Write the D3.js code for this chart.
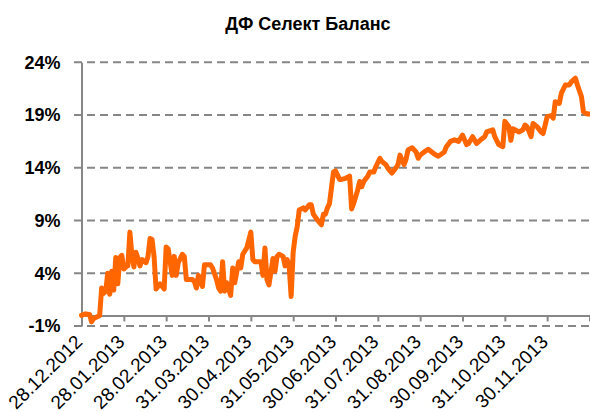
<!DOCTYPE html>
<html>
<head>
<meta charset="utf-8">
<script src="https://cdn.jsdelivr.net/npm/d3@7/dist/d3.min.js"></script>
<style>
  html, body { margin: 0; padding: 0; background: #ffffff; }
  svg { display: block; font-family: "Liberation Sans", Arial, sans-serif; }
</style>
</head>
<body>
<svg id="chart" width="590" height="412"></svg>
<script>
// ---- data ----
const title = "ДФ Селект Баланс";
const yTicks = [-1, 4, 9, 14, 19, 24];
const tickLabels = ["28.12.2012","28.01.2013","28.02.2013","31.03.2013","30.04.2013","31.05.2013",
                    "30.06.2013","31.07.2013","31.08.2013","30.09.2013","31.10.2013","30.11.2013"];
const daysPerLabel = 21;
const totalDays = 252;
// trading-day index and return (%)
const days = [0,2,4,5,6,8,9,10,11,12,13,14,15,16,17,18,19,20,21,22,23,24,25,26,27,28,29,30,32,33,34,35,36,37,39,41,
  42,43,45,46,47,48,50,51,52,53,55,56,57,58,59,60,61,64,65,67,68,69,70,71,72,74,75,76,78,79,80,82,84,85,86,89,90,91,92,93,
  95,96,97,98,100,101,102,103,104,105,106,107,108,110,111,113,114,115,117,119,120,121,122,123,124,125,126,128,129,131,133,134,
  135,137,138,139,140,142,143,145,146,148,149,151,152,154,156,157,158,160,161,162,164,166,167,168,170,172,175,177,180,181,183,
  185,187,189,191,192,194,196,198,200,201,204,205,207,209,210,212,213,214,215,217,219,220,221,223,224,226,228,229,231,233,234,
  235,237,238,240,242,243,245,246,248,249,251,252];
const values = [0.0,0.15,0.1,-0.6,-0.3,-0.1,0.0,2.6,2.1,2.3,4.0,2.0,4.2,2.4,5.5,3.0,5.5,5.7,4.4,4.6,4.7,7.9,5.7,4.6,6.0,5.4,4.7,5.3,5.0,5.6,7.3,7.2,5.6,2.5,3.0,2.5,
  6.5,6.3,3.8,5.6,3.8,5.0,5.8,5.6,3.4,3.4,3.4,3.2,2.6,3.8,3.2,2.75,4.8,4.8,4.5,3.4,2.6,2.3,5.1,2.3,3.1,1.9,4.5,3.1,5.1,4.5,5.8,6.4,7.9,5.3,5.1,5.1,3.8,6.4,3.4,2.9,
  5.4,4.2,5.6,5.8,5.6,4.7,5.3,4.7,1.8,6.0,7.5,8.4,10.0,10.2,10.0,10.5,10.5,9.6,9.05,8.6,9.6,9.6,10.2,10.6,12.1,13.6,13.7,12.9,12.9,13.0,13.2,10.1,
  10.6,11.9,12.7,12.2,12.7,13.2,13.6,13.6,14.1,14.9,14.6,14.3,13.95,13.5,14.0,14.3,15.2,14.3,14.8,15.7,15.9,15.5,14.9,15.2,15.5,15.75,15.3,15.1,15.5,16.0,16.5,
  16.65,16.5,17.1,16.2,16.3,16.95,16.3,16.65,16.95,17.4,17.6,16.95,16.2,16.0,18.4,17.9,16.6,17.7,17.6,17.4,17.6,18.05,17.9,16.95,18.2,17.9,17.4,17.25,18.85,18.95,18.7,
  20.25,20.1,21.05,21.85,21.85,22.15,22.5,21.85,20.75,19.3,19.1,19.1];

// ---- chart ----
const svg = d3.select("#chart");
const gridColor = "#868686";
const lineColor = "#FF6600";

const x = d3.scaleLinear().domain([0, totalDays]).range([81.5, 589.5]);
const y = d3.scaleLinear().domain([-1, 24]).range([326, 62.3]);

// title
svg.append("text")
  .attr("x", 308).attr("y", 30)
  .attr("text-anchor", "middle")
  .attr("font-size", 18).attr("font-weight", "bold")
  .attr("fill", "#000")
  .text(title);

// dashed gridlines
svg.append("g").selectAll("line").data(yTicks).join("line")
  .attr("x1", 74).attr("x2", 590)
  .attr("y1", d => y(d)).attr("y2", d => y(d))
  .attr("stroke", gridColor).attr("stroke-width", 2)
  .attr("stroke-dasharray", "8,5");

// y axis (labels + vertical line)
const yAxis = svg.append("g").attr("transform", `translate(${x(0)},0)`)
  .call(d3.axisLeft(y).tickValues(yTicks).tickSize(0).tickPadding(21).tickFormat(d => d + "%"));
yAxis.select(".domain").attr("stroke", gridColor).attr("stroke-width", 2);
yAxis.selectAll("text")
  .attr("font-size", 18).attr("font-weight", "bold").attr("fill", "#000")
  .attr("font-family", "'Liberation Sans', Arial, sans-serif");

// x axis at 0%
const tickDays = d3.range(0, totalDays + 1, daysPerLabel);
const xAxis = svg.append("g").attr("transform", `translate(0,${y(0)})`)
  .call(d3.axisBottom(x).tickValues(tickDays).tickSize(6).tickSizeOuter(0).tickFormat(""));
xAxis.select(".domain").attr("stroke", gridColor).attr("stroke-width", 2);
xAxis.selectAll(".tick line").attr("stroke", gridColor).attr("stroke-width", 2);

// rotated date labels below the chart
svg.append("g").selectAll("text").data(tickLabels).join("text")
  .attr("transform", (d, i) => `translate(${x(i * daysPerLabel) + 2},343) rotate(-45)`)
  .attr("text-anchor", "end")
  .attr("font-size", 19)
  .attr("fill", "#000")
  .text(d => d);

// series line
const pts = days.map((d, i) => [d, values[i]]);
svg.append("path")
  .datum(pts)
  .attr("fill", "none")
  .attr("stroke", lineColor)
  .attr("stroke-width", 5)
  .attr("stroke-linejoin", "round")
  .attr("stroke-linecap", "round")
  .attr("d", d3.line().x(d => x(d[0])).y(d => y(d[1])));
</script>
</body>
</html>
